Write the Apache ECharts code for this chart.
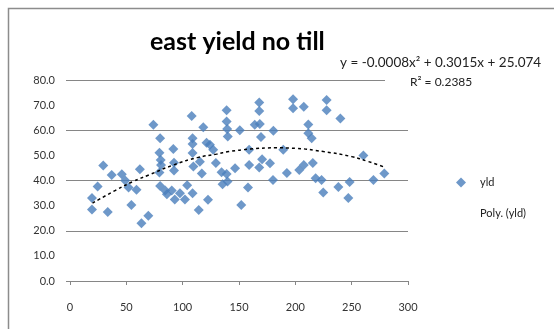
<!DOCTYPE html>
<html>
<head>
<meta charset="utf-8">
<script src="https://cdn.jsdelivr.net/npm/echarts@6/dist/echarts.min.js"></script>
<style>
html,body{margin:0;padding:0;background:#fff;}
#c{width:554px;height:329px;}
</style>
</head>
<body>
<div id="c"></div>
<script>
// Scatter data "yld" (x, y)
const yldX = [19.5,19.5,24.5,29.5,33.5,37,46,49,52,54.5,59,62,63.4,69.5,74,80,79.4,80.5,80.8,79.4,80,84.5,86,91.7,90.3,92.3,92.3,93,97.6,102,104,108,108.8,108.8,108.8,109.5,108.8,114.3,115.3,117,118.3,122.5,121.2,124.2,127.1,129.5,134.5,135.4,139,139,139.5,140,139.8,139,146.5,150.7,152,159,158,159,164,168,168,168.5,169.5,170.5,168,177.5,180.5,180.2,189.3,192.5,198,198,207.5,203.5,207.5,211.5,211.5,214.5,215.5,218,223.3,224.8,227.8,227.8,238.2,240,248.2,247,260.4,269.3,279];
const yldY = [28.5,33,37.6,46,27.5,42.2,42.5,40,37.2,30.2,36.3,44.5,23,26,62.2,56.8,51,48.2,46.2,43.2,37.8,36,34.5,52.5,36,44,47.1,32.4,34.9,32.4,38.1,65.7,56.8,54.5,50.9,45.6,34.9,28.3,47.5,42.8,61.2,32.3,55,54.2,52.2,47,43.3,38.5,68,63.5,60.5,57.5,39.6,42.6,44.9,60,30.2,46.2,37.2,52.2,62.2,71,67.7,62.5,57.3,48.5,45.2,46.9,59.8,40.2,52.2,43,72.3,68.8,69.4,44.2,46.2,62.3,58.8,56.8,47,40.9,40.2,35.2,72,68,37.4,64.7,39.4,33,50,40.2,42.8];
// Polynomial trendline "Poly. (yld)"
const trendX = [20,40,56,70,92,113,130,141,160,182,200,225,250,265,278];
const trendY = [31,36,39.6,42.2,46.2,49.1,50.5,51.5,52.5,53,52.8,51.5,49.5,47.5,45.5];
// Texts
const titleText = 'east yield no till';
const eqText = 'y = -0.0008x² + 0.3015x + 25.074';
const r2Text = 'R² = 0.2385';
const seriesNames = ['yld', 'Poly. (yld)'];

const FONT = 'Lato';
const GRIDC = '#868686';
const BLUE = '#4a7ebb';

const scatterData = yldX.map((x, i) => [x, yldY[i]]);
const trendData = trendX.map((x, i) => [x, trendY[i]]);

const chart = echarts.init(document.getElementById('c'), null, {renderer: 'canvas'});
chart.setOption({
  animation: false,
  backgroundColor: '#fff',
  title: {
    text: titleText,
    left: 150, top: 29, padding: 0,
    textStyle: {fontFamily: FONT, fontWeight: 'bold', fontSize: 25, color: '#000'}
  },
  legend: {
    orient: 'vertical',
    left: 456, top: 177, padding: 0,
    itemWidth: 10, itemHeight: 10, itemGap: 20,
    textStyle: {fontFamily: FONT, fontSize: 11, color: '#222', padding: [0, 0, 0, 9]},
    data: [
      {name: seriesNames[0], icon: 'diamond'},
      {name: seriesNames[1], icon: 'rect', itemStyle: {opacity: 0}}
    ]
  },
  grid: {left: 70, top: 80, width: 338, height: 201, containLabel: false},
  xAxis: {
    type: 'value', min: 0, max: 300, interval: 50,
    axisLine: {show: true, lineStyle: {color: GRIDC, width: 1}},
    axisTick: {show: true, length: 4, lineStyle: {color: GRIDC}},
    axisLabel: {margin: 21, fontFamily: FONT, fontSize: 11, color: '#333'},
    splitLine: {show: false}
  },
  yAxis: [
    {
      type: 'value', min: 0, max: 80, interval: 10,
      axisLine: {show: false},
      axisTick: {show: false},
      axisLabel: {margin: 15, fontFamily: FONT, fontSize: 11, color: '#333',
        formatter: v => v.toFixed(1)},
      splitLine: {show: false}
    },
    {
      type: 'value', min: 0, max: 80, interval: 20, position: 'left',
      axisLine: {show: false},
      axisTick: {show: true, inside: false, length: 4, lineStyle: {color: GRIDC}},
      axisLabel: {show: false},
      splitLine: {show: true, lineStyle: {color: GRIDC, width: 1}}
    }
  ],
  series: [
    {
      name: seriesNames[0], type: 'scatter', yAxisIndex: 0,
      symbol: 'diamond', symbolSize: 10,
      itemStyle: {color: BLUE},
      data: scatterData, z: 3
    },
    {
      name: seriesNames[1], type: 'line', yAxisIndex: 0,
      smooth: true, showSymbol: false, symbol: 'none',
      lineStyle: {color: '#000', width: 1.5, type: [3, 3]},
      data: trendData, z: 4
    }
  ],
  graphic: [
    {type: 'rect', shape: {x: 8.5, y: 8.5, width: 600, height: 400},
     style: {fill: 'none', stroke: '#8c8c8c', lineWidth: 1.5}, z: 100, silent: true},
    {type: 'rect', shape: {x: 385, y: 72, width: 170, height: 16},
     style: {fill: '#fff'}, z: 90, silent: true},
    {type: 'text', left: 340, top: 56, z: 101,
     style: {text: eqText, fontFamily: FONT, fontSize: 13.5, fill: '#222'}},
    {type: 'text', left: 410, top: 76, z: 101,
     style: {text: r2Text, fontFamily: FONT, fontSize: 12, fill: '#222'}}
  ]
});
</script>
</body>
</html>
